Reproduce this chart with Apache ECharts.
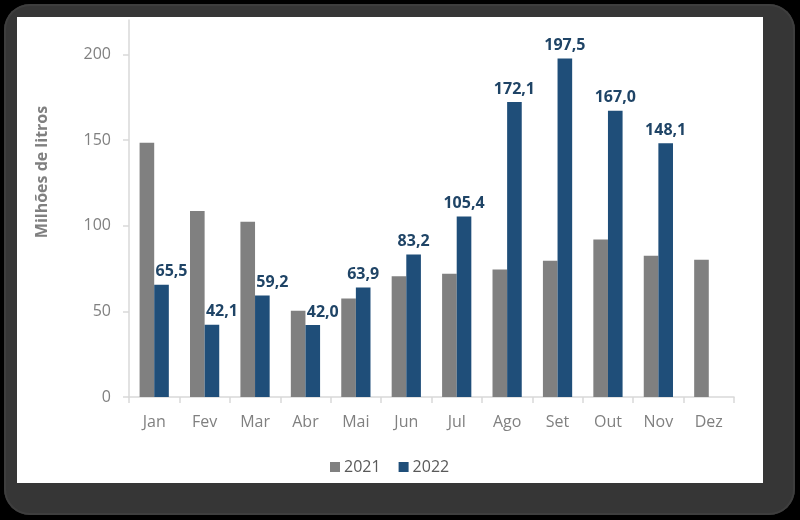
<!DOCTYPE html>
<html>
<head>
<meta charset="utf-8">
<script src="https://cdn.jsdelivr.net/npm/echarts@6/dist/echarts.min.js"></script>
<style>
  html, body { margin: 0; padding: 0; background: #000; width: 800px; height: 520px; overflow: hidden; }
  #frame { position: absolute; left: 4px; top: 4px; width: 791px; height: 511px; background: #363636; border-radius: 26px; box-shadow: inset 0 0 0 2px #3e3e3e; }
  #panel { position: absolute; left: 17px; top: 17px; width: 746px; height: 466px; background: #fff; }
  #chart { position: absolute; left: 0; top: 0; width: 800px; height: 520px; }
</style>
</head>
<body>
<div id="frame"></div>
<div id="panel"></div>
<div id="chart"></div>
<script>
const categories = ['Jan', 'Fev', 'Mar', 'Abr', 'Mai', 'Jun', 'Jul', 'Ago', 'Set', 'Out', 'Nov', 'Dez'];
const values2021 = [148.3, 108.5, 102.2, 50.3, 57.5, 70.4, 71.9, 74.4, 79.5, 91.9, 82.4, 80.1];
const values2022 = [65.5, 42.1, 59.2, 42.0, 63.9, 83.2, 105.4, 172.1, 197.5, 167.0, 148.1, null];
const yTicks = [0, 50, 100, 150, 200];
const seriesNames = ['2021', '2022'];

const chart = echarts.init(document.getElementById('chart'), null, { renderer: 'canvas' });

const FONT = '"Open Sans", "Noto Sans", sans-serif';
const GRAY = '#808080';
const BLUE = '#1F4E79';

const data2022 = values2022.map(function (v, i) {
  const item = { value: v };
  if (v != null && values2021[i] > v) {
    item.label = { offset: [10, 0] };
  }
  return item;
});

chart.setOption({
  animation: false,
  backgroundColor: 'transparent',
  textStyle: { fontFamily: FONT },
  grid: { left: 129, right: 66, top: 20, bottom: 123, containLabel: false },
  legend: {
    data: seriesNames,
    left: 330,
    top: 459,
    padding: 0,
    icon: 'rect',
    itemWidth: 10,
    itemHeight: 10,
    itemGap: 18,
    textStyle: { fontFamily: FONT, fontSize: 16, color: '#595959', padding: [0, 0, 0, -1] }
  },
  xAxis: {
    type: 'category',
    data: categories,
    boundaryGap: true,
    axisLine: { lineStyle: { color: '#d9d9d9', width: 1.5 } },
    axisTick: { show: true, length: 6, lineStyle: { color: '#d9d9d9', width: 1.5 } },
    axisLabel: { fontFamily: FONT, fontSize: 16, color: GRAY, margin: 17 }
  },
  yAxis: {
    type: 'value',
    min: 0,
    max: 220,
    interval: 50,
    axisLine: { show: true, lineStyle: { color: '#d9d9d9', width: 1.5 } },
    axisTick: { show: true, length: 6, customValues: yTicks, lineStyle: { color: '#d9d9d9', width: 1.5 } },
    axisLabel: { fontFamily: FONT, fontSize: 16, color: GRAY, margin: 18, customValues: yTicks },
    splitLine: { show: false }
  },
  graphic: [{
    type: 'text',
    x: 42,
    y: 172,
    rotation: Math.PI / 2,
    style: {
      text: 'Milhões de litros',
      font: 'bold 16px ' + FONT,
      fill: GRAY,
      textAlign: 'center',
      textVerticalAlign: 'middle'
    }
  }],
  series: [
    {
      name: seriesNames[0],
      type: 'bar',
      data: values2021,
      barGap: '0%',
      barCategoryGap: '42%',
      itemStyle: { color: GRAY }
    },
    {
      name: seriesNames[1],
      type: 'bar',
      data: data2022,
      barGap: '0%',
      barCategoryGap: '42%',
      itemStyle: { color: BLUE },
      label: {
        show: true,
        position: 'top',
        distance: 5,
        fontFamily: FONT,
        fontSize: 16,
        fontWeight: 'bold',
        color: '#1F4466',
        formatter: function (p) { return p.value == null ? '' : p.value.toFixed(1).replace('.', ','); }
      }
    }
  ]
});
</script>
</body>
</html>
